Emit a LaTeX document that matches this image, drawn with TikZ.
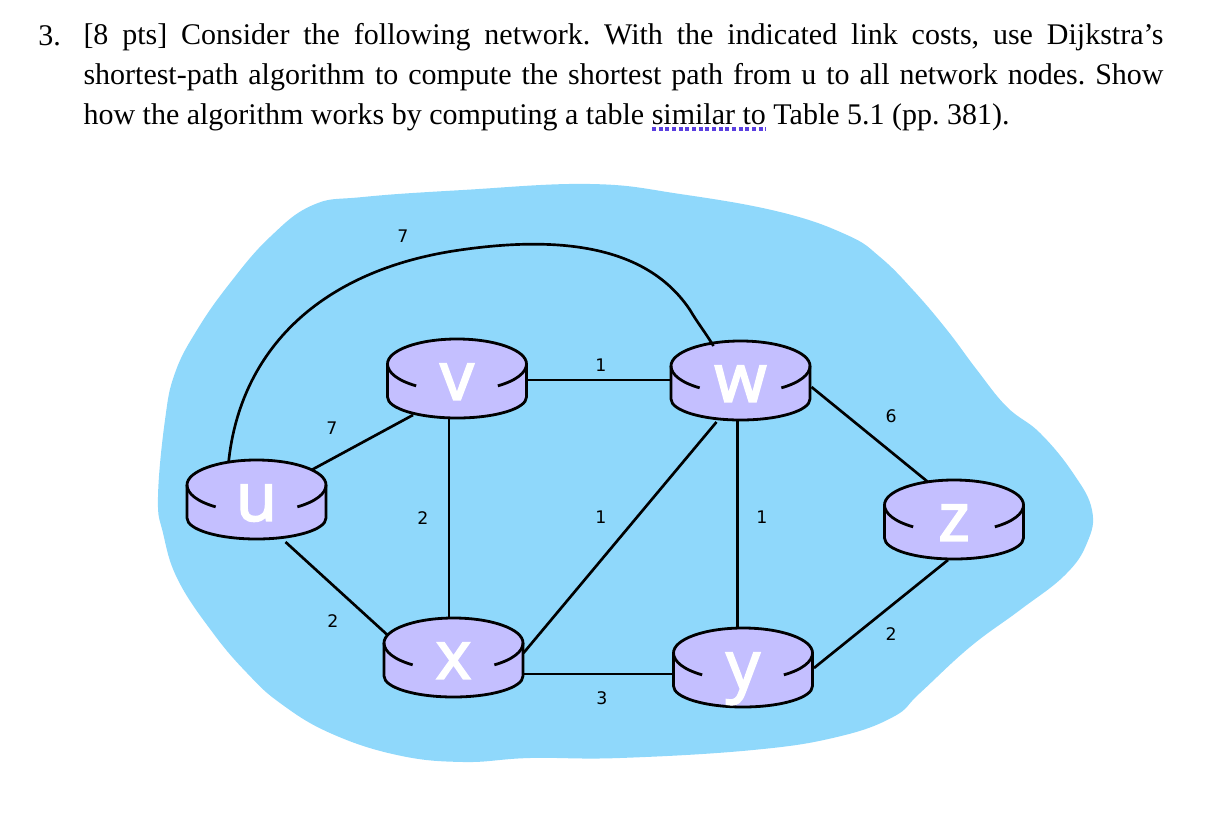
\documentclass[tikz,border=0pt]{standalone}
\usepackage{fontspec}
\setmainfont{Liberation Serif}
\newfontfamily\routerfont[FakeBold=3]{Open Sans}
\newfontfamily\costfont{DejaVu Sans}

\definecolor{cloudblue}{HTML}{8FD8FB}
\definecolor{routerfill}{HTML}{C4BFFF}
\definecolor{proofblue}{HTML}{5A3FE0}

\tikzset{every picture/.style={line width=0.75pt}}
\tikzset{
	routerbody/.pic={
		\draw [line width=2.1pt, fill=routerfill] (-69.5,15) arc (180:0:69.5 and 25) -- (69.5,-18) arc (360:180:69.5 and 21) -- cycle ;
		\draw [line width=2.1pt] (-69.5,15) arc (180:234:69.5 and 27) ;
		\draw [line width=2.1pt] (69.5,15) arc (360:306:69.5 and 27) ;
	},
	routernode/.style={inner sep=0pt, minimum width=104pt, minimum height=59pt, text=white, font=\routerfont\fontsize{50pt}{50pt}\selectfont, text height=31pt, text depth=0pt},
	costlabel/.style={inner sep=0.75pt, font=\costfont\fontsize{13pt}{13pt}\selectfont},
	link/.style={line width=2pt}
}

\begin{document}
\begin{tikzpicture}[x=0.75pt,y=0.75pt,yscale=-1,xscale=1]
	\useasboundingbox (0,0) rectangle (1216,830);

	%Cloud
	\path [fill=cloudblue] plot [smooth cycle, tension=0.7] coordinates {(313,205) (363,197) (463,190) (590,184) (680,194) (780,212) (847,235) (880,257) (913,290) (947,330) (977,370) (1007,407) (1040,433) (1073,473) (1092,510) (1087,543) (1065,575) (1020,610) (970,647) (920,693) (893,717) (837,737) (753,750) (620,758) (530,758) (463,762) (397,755) (330,733) (280,703) (247,673) (213,633) (178,580) (163,533) (158,497) (165,420) (175,373) (197,330) (230,283) (270,237)};

	%Routers
	\path (256.5,500) pic {routerbody};
	\path (457,379) pic {routerbody};
	\path (740.5,381) pic {routerbody};
	\path (954,520) pic {routerbody};
	\path (453.5,658) pic {routerbody};
	\path (743,668) pic {routerbody};

	% Text Node
	\draw (256.5,500) node (u) [routernode] {u};
	% Text Node
	\draw (457,379) node (v) [routernode] {v};
	% Text Node
	\draw (740.5,381) node (w) [routernode] {w};
	% Text Node
	\draw (954,520) node (z) [routernode] {z};
	% Text Node
	\draw (453.5,658) node (x) [routernode] {x};
	% Text Node
	\draw (743,668) node (y) [routernode] {y};

	%Straight Lines
	\draw [link] ([shift={(55,-30)}]u.center) -- ([shift={(-44,36)}]v.center) ;
	\draw [link] ([shift={(29,42)}]u.center) -- ([shift={(-66,-23)}]x.center) ;
	\draw [link] ([shift={(-8,39)}]v.center) -- ([shift={(-4.5,-39)}]x.center) ;
	\draw [link] ([shift={(70,1)}]v.center) -- ([shift={(-70,-1)}]w.center) ;
	\draw [link] ([shift={(-24,41)}]w.center) -- ([shift={(70,-5)}]x.center) ;
	\draw [link] ([shift={(-3,39)}]w.center) -- ([shift={(-5.5,-39)}]y.center) ;
	\draw [link] ([shift={(71,6)}]w.center) -- ([shift={(-26,-38)}]z.center) ;
	\draw [link] ([shift={(-6,40)}]z.center) -- ([shift={(71,0)}]y.center) ;
	\draw [link] ([shift={(69,16)}]x.center) -- ([shift={(-70,6)}]y.center) ;
	%Curve Lines
	\draw [link] ([shift={(-28,-37)}]u.center) .. controls (240,350) and (320,270) .. (460,250) .. controls (570,234) and (650,250) .. (690,310) .. controls (697,322) and (705,332) .. ([shift={(-27,-35)}]w.center) ;

	% Text Node
	\draw (403,236) node (costuwtop) [costlabel] {7};
	% Text Node
	\draw (332,428) node (costuv) [costlabel] {7};
	% Text Node
	\draw (423,518) node (costvx) [costlabel] {2};
	% Text Node
	\draw (601,365) node (costvw) [costlabel] {1};
	% Text Node
	\draw (601,517) node (costwx) [costlabel] {1};
	% Text Node
	\draw (762,517) node (costwy) [costlabel] {1};
	% Text Node
	\draw (891,416) node (costwz) [costlabel] {6};
	% Text Node
	\draw (333,621) node (costux) [costlabel] {2};
	% Text Node
	\draw (891,634) node (costyz) [costlabel] {2};
	% Text Node
	\draw (602,698) node (costxy) [costlabel] {3};

	% Text Node
	\draw (38,25) node (number) [anchor=north west, inner sep=0pt, font=\fontsize{22.5pt}{30pt}\selectfont] {3.};
	% Text Node
	\draw (83,23) node (question) [anchor=north west, inner sep=0pt, text width=810pt, align=justify, font=\fontsize{22.5pt}{30pt}\selectfont] {\frenchspacing [8 pts] Consider the following network. With the indicated link costs, use Dijkstra’s\linebreak shortest-path algorithm to compute the shortest path from u to all network nodes. Show\linebreak how the algorithm works by computing a table similar to Table 5.1 (pp. 381).};

	%Straight Lines
	\coordinate (markstart) at (652,129);
	\coordinate (markend) at (766,129);
	\draw [proofblue, line width=2.6pt, dash pattern={on 3pt off 2pt}] (markstart) -- (markend) ;
\end{tikzpicture}
\end{document}
